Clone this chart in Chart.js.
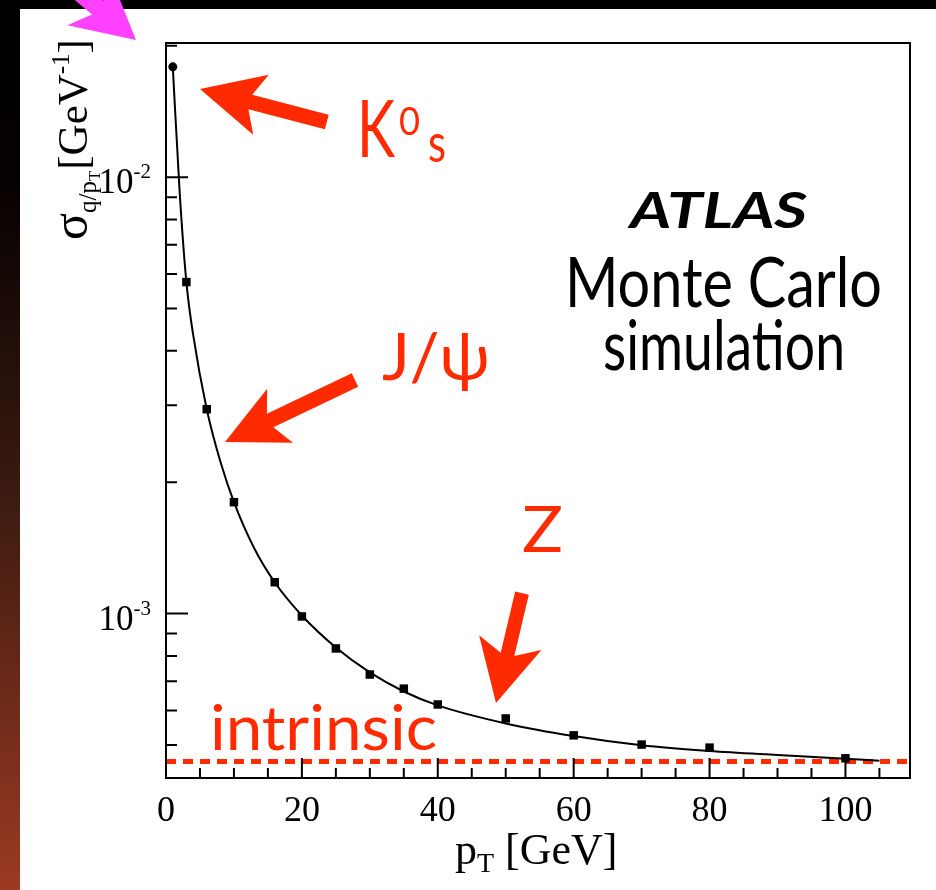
<!DOCTYPE html>
<html>
<head>
<meta charset="utf-8">
<script src="https://cdn.jsdelivr.net/npm/chart.js@4/dist/chart.umd.min.js"></script>
<style>
  html, body { margin: 0; padding: 0; background: #000; overflow: hidden; }
  canvas { display: block; }
</style>
</head>
<body>
<canvas id="miGrafica" width="936" height="890"></canvas>
<script>
// Puntos de la simulación (pT en GeV, resolución en GeV^-1)
const ptValues = [1, 3, 6, 10, 16, 20, 25, 30, 35, 40, 50, 60, 70, 80, 100];
const sigmaValues = [0.0179, 0.00575, 0.00294, 0.0018, 0.00118, 0.000985, 0.000832, 0.000725,
                     0.000673, 0.000619, 0.000575, 0.000526, 0.000501, 0.000493, 0.000466];

// Curva de ajuste
const curvaPt = [1, 2, 3, 4, 6, 8, 10, 13, 16, 20, 25, 30, 35, 40, 50, 60, 70, 80, 90, 100, 105];
const curvaSigma = [0.0179, 0.0093, 0.00575, 0.00435, 0.00294, 0.00223, 0.0018, 0.00141, 0.00118,
                    0.00099, 0.000836, 0.000733, 0.000663, 0.000616, 0.00056, 0.000524, 0.000499,
                    0.000484, 0.000474, 0.000465, 0.00046];

// Límite intrínseco
const intrinsecoPt = [0, 109.5];
const intrinsecoSigma = 0.000458;

// Marcas de los ejes
const xTicks = [0, 20, 40, 60, 80, 100];
const xMinorTicks = [5, 10, 15, 25, 30, 35, 45, 50, 55, 65, 70, 75, 85, 90, 95, 105];
const yTicks = [1e-2, 1e-3];
const yTickExp = ['-2', '-3'];
const yMinorTicks = [5e-4, 6e-4, 7e-4, 8e-4, 9e-4, 2e-3, 3e-3, 4e-3, 5e-3, 6e-3, 7e-3, 8e-3, 9e-3, 2e-2];

const ROJO = '#ff2a00';
const SERIF = "'Liberation Serif', 'DejaVu Serif', serif";
const SANS = "Lato, 'Noto Sans', sans-serif";

// Texto ajustado a un ancho dado (escala horizontal)
function texto(ctx, str, size, weight, x, y, ancho, color) {
    ctx.save();
    ctx.font = weight + ' ' + size + 'px ' + SANS;
    ctx.fillStyle = color;
    ctx.textBaseline = 'alphabetic';
    ctx.textAlign = 'left';
    const w = ctx.measureText(str).width;
    const k = ancho ? ancho / w : 1;
    ctx.translate(x, y);
    ctx.scale(k, 1);
    ctx.fillText(str, 0, 0);
    ctx.restore();
}

// dir = sentido de avance (de la cola a la punta)
function flecha(ctx, punta, dir, largo, cabeza, cuello, medioAncho, grosor, color) {
    const n = Math.hypot(dir[0], dir[1]);
    const u = [dir[0] / n, dir[1] / n];
    const p = [-u[1], u[0]];
    const pt = (a, b) => [punta[0] - u[0] * a + p[0] * b, punta[1] - u[1] * a + p[1] * b];
    const pts = [
        pt(0, 0), pt(cabeza, medioAncho), pt(cuello, grosor / 2), pt(largo, grosor / 2),
        pt(largo, -grosor / 2), pt(cuello, -grosor / 2), pt(cabeza, -medioAncho)
    ];
    ctx.save();
    ctx.fillStyle = color;
    ctx.beginPath();
    pts.forEach((q, i) => i ? ctx.lineTo(q[0], q[1]) : ctx.moveTo(q[0], q[1]));
    ctx.closePath();
    ctx.fill();
    ctx.restore();
}

const fondo = {
    id: 'fondo',
    beforeDraw(chart) {
        const ctx = chart.ctx;
        ctx.save();
        ctx.fillStyle = '#000';
        ctx.fillRect(0, 0, 936, 890);
        const g = ctx.createLinearGradient(0, 0, 0, 890);
        g.addColorStop(0, '#000');
        g.addColorStop(0.2, '#050100');
        g.addColorStop(0.55, '#3a1a10');
        g.addColorStop(1, '#9c3a22');
        ctx.fillStyle = g;
        ctx.fillRect(0, 0, 20, 890);
        ctx.fillStyle = '#fff';
        ctx.fillRect(20, 9, 916, 881);
        ctx.restore();
    }
};

const marco = {
    id: 'marco',
    afterDraw(chart) {
        const ctx = chart.ctx;
        const a = chart.chartArea;
        const xs = chart.scales.x, ys = chart.scales.y;
        ctx.save();
        ctx.strokeStyle = '#000';
        ctx.lineWidth = 2;
        ctx.strokeRect(a.left, a.top, a.right - a.left, a.bottom - a.top);

        // marcas hacia dentro
        ctx.beginPath();
        xTicks.forEach(v => { const px = xs.getPixelForValue(v); ctx.moveTo(px, a.bottom); ctx.lineTo(px, a.bottom - 20); });
        xMinorTicks.forEach(v => { const px = xs.getPixelForValue(v); ctx.moveTo(px, a.bottom); ctx.lineTo(px, a.bottom - 10); });
        yTicks.forEach(v => { const py = ys.getPixelForValue(v); ctx.moveTo(a.left, py); ctx.lineTo(a.left + 22, py); });
        yMinorTicks.forEach(v => { const py = ys.getPixelForValue(v); ctx.moveTo(a.left, py); ctx.lineTo(a.left + 11, py); });
        ctx.stroke();

        // etiquetas del eje y (10^-n)
        ctx.fillStyle = '#000';
        ctx.textBaseline = 'alphabetic';
        yTicks.forEach((v, i) => {
            const py = ys.getPixelForValue(v);
            ctx.font = '21px ' + SERIF;
            ctx.textAlign = 'right';
            ctx.fillText(yTickExp[i], 151, py + 1);
            const we = ctx.measureText(yTickExp[i]).width;
            ctx.font = '35px ' + SERIF;
            ctx.fillText('10', 151 - we, py + 16);
        });

        // título del eje x
        ctx.textAlign = 'left';
        let x = 455;
        const yb = 864;
        ctx.font = '44px ' + SERIF;
        ctx.fillText('p', x, yb); x += ctx.measureText('p').width;
        ctx.font = '28px ' + SERIF;
        ctx.fillText('T', x, yb + 8); x += ctx.measureText('T').width;
        ctx.font = '44px ' + SERIF;
        ctx.fillText(' [GeV]', x, yb);

        // título del eje y (girado)
        ctx.save();
        ctx.translate(87, 240);
        ctx.rotate(-Math.PI / 2);
        let t = 0;
        ctx.font = '50px ' + SERIF;
        ctx.fillText('σ', t, 0); t += ctx.measureText('σ').width;
        ctx.font = '25px ' + SERIF;
        ctx.fillText('q/p', t, 9); t += ctx.measureText('q/p').width;
        ctx.font = '17px ' + SERIF;
        ctx.fillText('T', t, 13); t += ctx.measureText('T').width + 1;
        ctx.font = '43px ' + SERIF;
        ctx.fillText('[GeV', t, 0); t += ctx.measureText('[GeV').width;
        ctx.font = '25px ' + SERIF;
        ctx.fillText('-1', t, -18); t += ctx.measureText('-1').width;
        ctx.font = '43px ' + SERIF;
        ctx.fillText(']', t, 0);
        ctx.restore();
        ctx.restore();

        // anotaciones
        texto(ctx, 'ATLAS', 50, 'italic bold', 630, 228, 177, '#000');
        texto(ctx, 'Monte Carlo', 70, 'normal', 565, 307, 317, '#000');
        texto(ctx, 'simulation', 70, 'normal', 603, 370, 242, '#000');
        texto(ctx, 'intrinsic', 62, 'normal', 210, 750, 227, ROJO);
        texto(ctx, 'Z', 64, 'normal', 522, 552, 41, ROJO);
        texto(ctx, 'J/ψ', 66, 'normal', 382, 380, 108, ROJO);
        texto(ctx, 'K', 80, 'normal', 357, 157, 38, ROJO);
        texto(ctx, '0', 38, 'normal', 399, 135, 21, ROJO);
        texto(ctx, 's', 54, 'normal', 428, 162, 18, ROJO);

        flecha(ctx, [200, 89], [-127, -33], 131, 63, 52, 31, 15, ROJO);
        flecha(ctx, [225, 442], [-130, 62], 144, 61, 50, 30, 15, ROJO);
        flecha(ctx, [496, 703], [-26, 110], 113, 62, 50, 32, 14, ROJO);
        flecha(ctx, [136, 40], [0.764, 0.646], 200, 62, 50, 33, 18, '#ff40ff');
    }
};

new Chart(document.getElementById('miGrafica').getContext('2d'), {
    type: 'scatter',
    data: {
        datasets: [
            {
                label: 'Simulación',
                data: ptValues.map((v, i) => ({ x: v, y: sigmaValues[i] })),
                pointStyle: ptValues.map((v, i) => i === 0 ? 'circle' : 'rect'),
                pointRadius: ptValues.map((v, i) => i === 0 ? 4.5 : 6),
                backgroundColor: '#000',
                borderColor: '#000',
                borderWidth: 0,
                order: 0
            },
            {
                type: 'line',
                label: 'Ajuste',
                data: curvaPt.map((v, i) => ({ x: v, y: curvaSigma[i] })),
                borderColor: '#000',
                borderWidth: 2,
                pointRadius: 0,
                cubicInterpolationMode: 'monotone',
                fill: false,
                order: 1
            },
            {
                type: 'line',
                label: 'Intrínseco',
                data: intrinsecoPt.map(v => ({ x: v, y: intrinsecoSigma })),
                borderColor: ROJO,
                borderWidth: 5,
                borderDash: [10, 7],
                pointRadius: 0,
                fill: false,
                order: 2
            }
        ]
    },
    options: {
        responsive: false,
        animation: false,
        devicePixelRatio: 1,
        layout: { padding: { left: 20, top: 43, right: 26, bottom: 0 } },
        plugins: { legend: { display: false }, tooltip: { enabled: false } },
        scales: {
            x: {
                type: 'linear',
                min: 0,
                max: 109.5,
                afterBuildTicks: s => { s.ticks = xTicks.map(v => ({ value: v })); },
                afterFit: s => { s.height = 112; },
                ticks: {
                    font: { family: SERIF, size: 36 },
                    color: '#000',
                    padding: 12,
                    maxRotation: 0,
                    autoSkip: false
                },
                grid: { display: false, drawTicks: false },
                border: { display: false }
            },
            y: {
                type: 'logarithmic',
                min: 4.2e-4,
                max: 2.03e-2,
                afterFit: s => { s.width = 146; },
                ticks: { display: false },
                grid: { display: false, drawTicks: false },
                border: { display: false }
            }
        }
    },
    plugins: [fondo, marco]
});
</script>
</body>
</html>
